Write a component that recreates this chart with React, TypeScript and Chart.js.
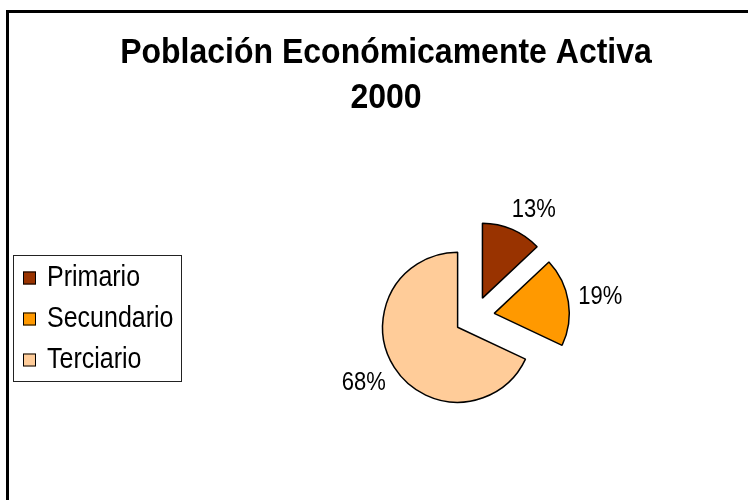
import React, { useEffect, useRef } from "react";
import { Chart, registerables } from "chart.js";

Chart.register(...registerables);

const titleLines = ["Población Económicamente Activa", "2000"];
const categories = ["Primario", "Secundario", "Terciario"];
const shares = [13, 19, 68];
const sliceColors = ["#993300", "#FF9900", "#FFCC99"];

const FONT = 'Arial, "Liberation Sans", Helvetica, sans-serif';
const EXPLODE = 20;

function drawStretched(ctx: CanvasRenderingContext2D, text: string, x: number, y: number, sy: number) {
  ctx.save();
  ctx.translate(x, y);
  ctx.scale(1, sy);
  ctx.fillText(text, 0, 0);
  ctx.restore();
}

const decorPlugin = {
  id: "decor",
  beforeDraw(chart: any) {
    const ctx: CanvasRenderingContext2D = chart.ctx;
    const W = chart.width;
    const H = chart.height;
    ctx.save();
    ctx.fillStyle = "#ffffff";
    ctx.fillRect(0, 0, W, H);
    // outer frame (extends past the right and bottom edges)
    ctx.fillStyle = "#000000";
    ctx.fillRect(6, 10, 3, H - 10);
    ctx.fillRect(6, 10, W - 6, 3);
    // title, centred in the (wider) chart frame
    ctx.font = `bold 32px ${FONT}`;
    ctx.textAlign = "center";
    ctx.textBaseline = "middle";
    titleLines.forEach((t, i) => drawStretched(ctx, t, 386, 53 + i * 45, 1.1));
    ctx.restore();
  },
  beforeDatasetsDraw(chart: any) {
    const ctx: CanvasRenderingContext2D = chart.ctx;
    const meta = chart.getDatasetMeta(0);
    meta.data.forEach((arc: any) => {
      const { startAngle, endAngle } = arc.getProps(["startAngle", "endAngle"], true);
      const mid = (startAngle + endAngle) / 2;
      ctx.save();
      ctx.translate(Math.cos(mid) * EXPLODE, Math.sin(mid) * EXPLODE);
      arc.draw(ctx);
      ctx.restore();
    });
    return false;
  },
  afterDraw(chart: any) {
    const ctx: CanvasRenderingContext2D = chart.ctx;
    const meta = chart.getDatasetMeta(0);
    const values: number[] = chart.data.datasets[0].data;
    const total = values.reduce((a, b) => a + b, 0);
    ctx.save();
    // percentage labels
    ctx.font = `22px ${FONT}`;
    ctx.fillStyle = "#000";
    ctx.textAlign = "center";
    ctx.textBaseline = "middle";
    const clamp = (v: number) => Math.max(-1, Math.min(1, v));
    meta.data.forEach((arc: any, i: number) => {
      const { x, y, startAngle, endAngle, outerRadius } = arc.getProps(
        ["x", "y", "startAngle", "endAngle", "outerRadius"],
        true
      );
      const mid = (startAngle + endAngle) / 2;
      const dx = Math.cos(mid);
      const dy = Math.sin(mid);
      const text = Math.round((values[i] / total) * 100) + "%";
      const w = ctx.measureText(text).width;
      const h = 20;
      const R = outerRadius + 10;
      const vx = x + dx * EXPLODE;
      const vy = y + dy * EXPLODE;
      const cx = vx + R * dx + (w / 2) * clamp(dx * 2);
      const cy = vy + R * dy + (h / 2) * clamp(dy * 2);
      drawStretched(ctx, text, cx, cy, 1.2);
    });
    // legend
    const lx = 13.5, ly = 255.5, lw = 168, lh = 126;
    ctx.strokeStyle = "#222";
    ctx.lineWidth = 1;
    ctx.strokeRect(lx, ly, lw, lh);
    const rows = [278, 319, 360];
    ctx.font = `25px ${FONT}`;
    ctx.textAlign = "left";
    categories.forEach((label, i) => {
      const cy = rows[i];
      ctx.fillStyle = sliceColors[i];
      ctx.fillRect(23, cy - 6.5, 13, 13);
      ctx.strokeStyle = "#000";
      ctx.strokeRect(23.5, cy - 6, 12, 12);
      ctx.fillStyle = "#000";
      drawStretched(ctx, label, 47, cy, 1.2);
    });
    ctx.restore();
  },
};

export default function App() {
  const canvasRef = useRef<HTMLCanvasElement | null>(null);

  useEffect(() => {
    const canvas = canvasRef.current;
    if (!canvas) return;
    const chart = new Chart(canvas, {
      type: "pie",
      data: {
        labels: categories,
        datasets: [
          {
            data: shares,
            backgroundColor: sliceColors,
            borderColor: "#000000",
            borderWidth: 1.5,
            hoverOffset: 0,
            clip: false,
          } as any,
        ],
      },
      options: {
        responsive: false,
        animation: false,
        radius: 75,
        events: [],
        layout: { padding: { left: 325, right: 124, top: 166, bottom: 33 } },
        plugins: {
          legend: { display: false },
          title: { display: false },
          tooltip: { enabled: false },
        },
      } as any,
      plugins: [decorPlugin as any],
    });
    return () => chart.destroy();
  }, []);

  return (
    <div style={{ position: "fixed", left: 0, top: 0, width: 748, height: 500, overflow: "hidden", background: "#fff" }}>
      <canvas ref={canvasRef} width={748} height={500} style={{ display: "block" }} />
    </div>
  );
}
